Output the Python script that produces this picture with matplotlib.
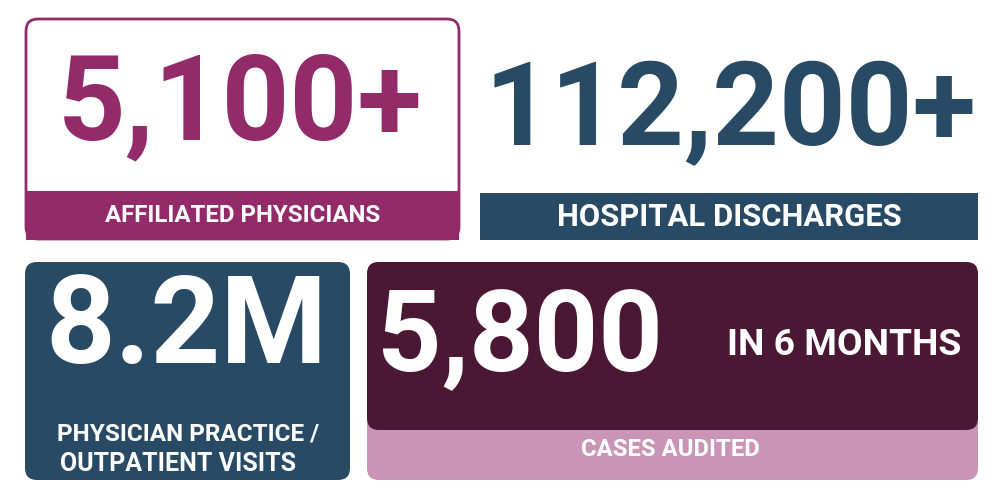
import matplotlib
matplotlib.use("Agg")
import matplotlib.pyplot as plt
from matplotlib.patches import FancyBboxPatch, Rectangle

numbers = ["5,100+", "112,200+", "8.2M", "5,800"]
labels = ["AFFILIATED PHYSICIANS", "HOSPITAL DISCHARGES",
          "PHYSICIAN PRACTICE /", "OUTPATIENT VISITS", "CASES AUDITED"]
extra = "IN 6 MONTHS"

PURPLE = "#932a6a"
BLUE = "#284a65"
MAROON = "#4a1835"
PINK = "#c994b6"
FONT = ["Liberation Sans Narrow", "DejaVu Sans Condensed", "Roboto"]

fig = plt.figure(figsize=(10, 5), dpi=100)
ax = fig.add_axes([0, 0, 1, 1])
ax.set_xlim(0, 1000)
ax.set_ylim(500, 0)
ax.axis("off")
renderer = fig.canvas.get_renderer()

def rbox(x0, y0, x1, y1, fc, ec="none", lw=0, r=12, z=1):
    ax.add_patch(FancyBboxPatch((x0 + r, y0 + r), x1 - x0 - 2 * r, y1 - y0 - 2 * r,
                                boxstyle=f"round,pad={r}", fc=fc, ec=ec, lw=lw, zorder=z))

def fit(x, y, s, color, width, maxsize):
    t = ax.text(x, y, s, color=color, fontsize=maxsize, fontweight="bold",
                family=FONT, ha="center", va="center", zorder=3)
    w = t.get_window_extent(renderer).width
    if w > width:
        t.set_fontsize(maxsize * width / w)
    return t

# Box 1
rbox(26, 19, 459, 239, "white", PURPLE, 2)
ax.add_patch(Rectangle((26, 191), 433, 49, fc=PURPLE, ec="none", zorder=2))
fit(240, 107, numbers[0], PURPLE, 365, 100)
fit(243, 216, labels[0], "white", 275, 19)

# Box 2
fit(730, 113, numbers[1], BLUE, 492, 100)
ax.add_patch(Rectangle((480, 193), 498, 47, fc=BLUE, ec="none"))
fit(729, 217, labels[1], "white", 345, 26)

# Box 3
rbox(25, 262, 350, 480, BLUE)
fit(186, 330, numbers[2], "white", 282, 90)
fit(188, 434, labels[2], "white", 262, 18)
fit(178, 464, labels[3], "white", 242, 18)

# Box 4
rbox(367, 262, 978, 480, PINK)
rbox(367, 262, 978, 430, MAROON)
ax.add_patch(Rectangle((367, 400), 611, 18, fc=MAROON, ec="none", zorder=1.5))
fit(520, 340, numbers[3], "white", 286, 100)
fit(844, 345, extra, "white", 234, 27)
fit(670, 449, labels[4], "white", 178, 19)

fig.savefig("out.png", dpi=100, facecolor="white")
